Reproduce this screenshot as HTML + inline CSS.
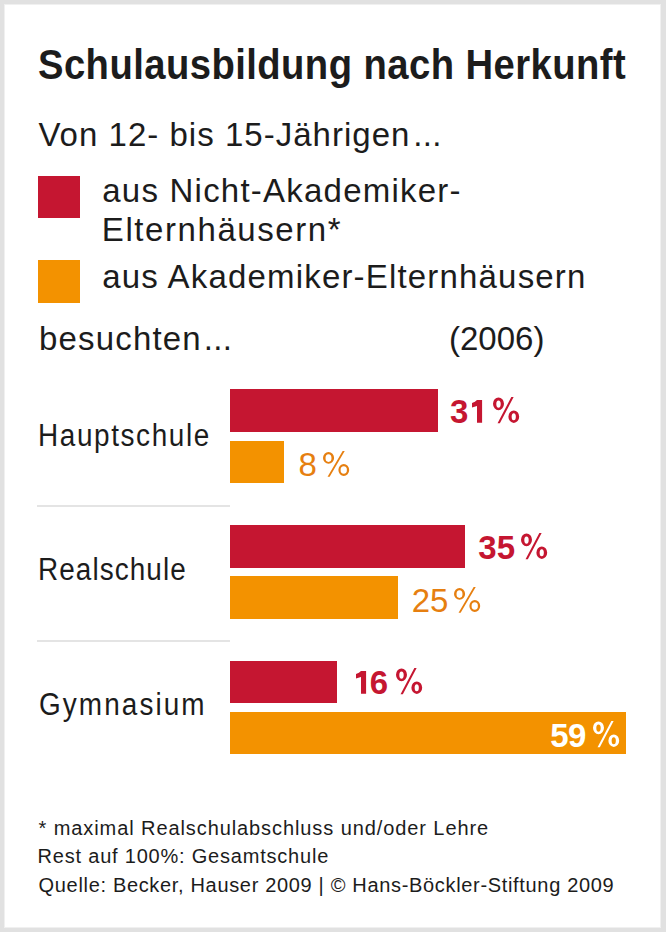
<!DOCTYPE html>
<html><head><meta charset="utf-8">
<style>
html,body{margin:0;padding:0;}
body{width:666px;height:932px;background:#e1e1e1;position:relative;overflow:hidden;font-family:"Liberation Sans",sans-serif;color:#1c1c1c;}
#card{position:absolute;left:4px;top:4px;width:657px;height:924px;background:#fff;box-shadow:inset 1px 1px 0 #f0f0f0,inset -1px -1px 0 #f0f0f0;}
.t{position:absolute;white-space:nowrap;line-height:1;}
.f33{font-size:33px;}
.f31{font-size:31px;}
.f20{font-size:20px;}
.bd{font-weight:bold;}
.b{position:absolute;}
.r{background:#c51631;}
.o{background:#f39200;}
.rc{color:#c51631;}
.oc{color:#e67f10;}
.wc{color:#fff;}
.g{position:absolute;overflow:visible;}
.sep{position:absolute;left:37px;width:193px;height:2px;background:#e4e4e4;}
</style></head><body>
<div id="card"></div>
<div class="t bd" style="left:38.1px;top:44px;font-size:42px;letter-spacing:0.48px;transform:scaleX(0.91);transform-origin:0 0;">Schulausbildung nach Herkunft</div>
<div class="t f33" style="left:38.4px;top:118px;letter-spacing:1.02px;">Von 12- bis 15-Jährigen</div>
<div class="t f33" style="left:413.3px;top:118px;letter-spacing:0.3px;">...</div>
<div class="b r" style="left:38px;top:176px;width:42px;height:42px;"></div>
<div class="t f33" style="left:102.3px;top:174px;letter-spacing:1.22px;">aus Nicht-Akademiker-</div>
<div class="t f33" style="left:101.8px;top:213px;letter-spacing:1.58px;">Elternhäusern*</div>
<div class="b o" style="left:38px;top:260px;width:42px;height:43px;"></div>
<div class="t f33" style="left:102.3px;top:260px;letter-spacing:1.18px;">aus Akademiker-Elternhäusern</div>
<div class="t f33" style="left:38.9px;top:322px;letter-spacing:1.19px;">besuchten</div>
<div class="t f33" style="left:203.8px;top:322px;letter-spacing:0.3px;">...</div>
<div class="t f33" style="left:449px;top:321.5px;">(2006)</div>

<div class="t f31" style="left:38.2px;top:420px;letter-spacing:1.8px;transform:scaleX(0.9);transform-origin:0 0;">Hauptschule</div>
<div class="b r" style="left:230px;top:389px;width:208px;height:43px;"></div>
<div class="b o" style="left:230px;top:441px;width:54px;height:42px;"></div>
<div class="sep" style="top:505px;"></div>

<div class="t f31" style="left:38.4px;top:554px;letter-spacing:1.2px;transform:scaleX(0.9);transform-origin:0 0;">Realschule</div>
<div class="b r" style="left:230px;top:525px;width:235px;height:43px;"></div>
<div class="b o" style="left:230px;top:576px;width:168px;height:43px;"></div>
<div class="sep" style="top:640px;"></div>

<div class="t f31" style="left:39.1px;top:689px;letter-spacing:2.33px;transform:scaleX(0.9);transform-origin:0 0;">Gymnasium</div>
<div class="b r" style="left:230px;top:661px;width:107px;height:42px;"></div>
<div class="b o" style="left:230px;top:712px;width:396px;height:42px;"></div>

<div class="t f33 bd rc" style="left:450.0px;top:395.1px;">3</div>
<svg class="g" style="left:471.9px;top:400.1px;width:10.1px;height:22.7px" viewBox="0 0 10.1 22.7"><path fill="#c51631" fill-rule="evenodd" d="M5.0 0L10.1 0L10.1 22.7L5.0 22.7L5.0 6.1L0 7.5L0 3.0Q3.3 2.1 5.0 0Z"/></svg>
<svg class="g" style="left:492.9px;top:397.2px;width:26.2px;height:26.3px" viewBox="0 0 26.2 26.3"><path fill="#c51631" fill-rule="evenodd" d="M0.00 6.85a5.50 6.35 0 1 0 11.00 0a5.50 6.35 0 1 0 -11.00 0ZM3.30 7.10a2.20 3.70 0 1 0 4.40 0a2.20 3.70 0 1 0 -4.40 0ZM15.40 19.65a5.40 6.25 0 1 0 10.80 0a5.40 6.25 0 1 0 -10.80 0ZM18.65 19.80a2.10 3.55 0 1 0 4.20 0a2.10 3.55 0 1 0 -4.20 0ZM18.35 0.00L20.65 0.00L6.85 26.30L4.55 26.30Z"/></svg>
<div class="t f33 oc" style="left:298.5px;top:448.1px;">8</div>
<svg class="g" style="left:322.8px;top:451.2px;width:26.2px;height:25.8px" viewBox="0 0 26.2 25.8"><path fill="#e67f10" fill-rule="evenodd" d="M0.00 6.95a5.55 5.90 0 1 0 11.10 0a5.55 5.90 0 1 0 -11.10 0ZM2.50 7.05a3.00 3.85 0 1 0 6.00 0a3.00 3.85 0 1 0 -6.00 0ZM15.40 19.00a5.40 5.90 0 1 0 10.80 0a5.40 5.90 0 1 0 -10.80 0ZM17.60 19.05a3.15 3.75 0 1 0 6.30 0a3.15 3.75 0 1 0 -6.30 0ZM19.65 0.00L21.75 0.00L6.65 25.80L4.55 25.80Z"/></svg>
<div class="t f33 bd rc" style="left:478.2px;top:531.3px;">3</div>
<div class="t f33 bd rc" style="left:496.8px;top:531.3px;">5</div>
<svg class="g" style="left:521.0px;top:533.4px;width:26.2px;height:26.3px" viewBox="0 0 26.2 26.3"><path fill="#c51631" fill-rule="evenodd" d="M0.00 6.85a5.50 6.35 0 1 0 11.00 0a5.50 6.35 0 1 0 -11.00 0ZM3.30 7.10a2.20 3.70 0 1 0 4.40 0a2.20 3.70 0 1 0 -4.40 0ZM15.40 19.65a5.40 6.25 0 1 0 10.80 0a5.40 6.25 0 1 0 -10.80 0ZM18.65 19.80a2.10 3.55 0 1 0 4.20 0a2.10 3.55 0 1 0 -4.20 0ZM18.35 0.00L20.65 0.00L6.85 26.30L4.55 26.30Z"/></svg>
<div class="t f33 oc" style="left:411.7px;top:583.6px;">2</div>
<div class="t f33 oc" style="left:430.1px;top:583.6px;">5</div>
<svg class="g" style="left:453.7px;top:587.0px;width:26.2px;height:25.8px" viewBox="0 0 26.2 25.8"><path fill="#e67f10" fill-rule="evenodd" d="M0.00 6.95a5.55 5.90 0 1 0 11.10 0a5.55 5.90 0 1 0 -11.10 0ZM2.50 7.05a3.00 3.85 0 1 0 6.00 0a3.00 3.85 0 1 0 -6.00 0ZM15.40 19.00a5.40 5.90 0 1 0 10.80 0a5.40 5.90 0 1 0 -10.80 0ZM17.60 19.05a3.15 3.75 0 1 0 6.30 0a3.15 3.75 0 1 0 -6.30 0ZM19.65 0.00L21.75 0.00L6.65 25.80L4.55 25.80Z"/></svg>
<svg class="g" style="left:356.2px;top:670.7px;width:10.1px;height:22.7px" viewBox="0 0 10.1 22.7"><path fill="#c51631" fill-rule="evenodd" d="M5.0 0L10.1 0L10.1 22.7L5.0 22.7L5.0 6.1L0 7.5L0 3.0Q3.3 2.1 5.0 0Z"/></svg>
<div class="t f33 bd rc" style="left:369.8px;top:666.1px;">6</div>
<svg class="g" style="left:395.6px;top:667.8px;width:26.2px;height:26.3px" viewBox="0 0 26.2 26.3"><path fill="#c51631" fill-rule="evenodd" d="M0.00 6.85a5.50 6.35 0 1 0 11.00 0a5.50 6.35 0 1 0 -11.00 0ZM3.30 7.10a2.20 3.70 0 1 0 4.40 0a2.20 3.70 0 1 0 -4.40 0ZM15.40 19.65a5.40 6.25 0 1 0 10.80 0a5.40 6.25 0 1 0 -10.80 0ZM18.65 19.80a2.10 3.55 0 1 0 4.20 0a2.10 3.55 0 1 0 -4.20 0ZM18.35 0.00L20.65 0.00L6.85 26.30L4.55 26.30Z"/></svg>
<div class="t f33 bd wc" style="left:550.2px;top:718.6px;">5</div>
<div class="t f33 bd wc" style="left:568.1px;top:718.6px;">9</div>
<svg class="g" style="left:593.2px;top:721.0px;width:26.2px;height:26.3px" viewBox="0 0 26.2 26.3"><path fill="#fff" fill-rule="evenodd" d="M0.00 6.85a5.50 6.35 0 1 0 11.00 0a5.50 6.35 0 1 0 -11.00 0ZM3.30 7.10a2.20 3.70 0 1 0 4.40 0a2.20 3.70 0 1 0 -4.40 0ZM15.40 19.65a5.40 6.25 0 1 0 10.80 0a5.40 6.25 0 1 0 -10.80 0ZM18.65 19.80a2.10 3.55 0 1 0 4.20 0a2.10 3.55 0 1 0 -4.20 0ZM18.35 0.00L20.65 0.00L6.85 26.30L4.55 26.30Z"/></svg>
<div class="t f20" style="left:38.6px;top:818px;letter-spacing:0.91px;">* maximal Realschulabschluss und/oder Lehre</div>
<div class="t f20" style="left:37.6px;top:846px;letter-spacing:0.79px;">Rest auf 100%: Gesamtschule</div>
<div class="t f20" style="left:38.6px;top:875px;letter-spacing:0.67px;">Quelle: Becker, Hauser 2009 | © Hans-Böckler-Stiftung 2009</div>
</body></html>
